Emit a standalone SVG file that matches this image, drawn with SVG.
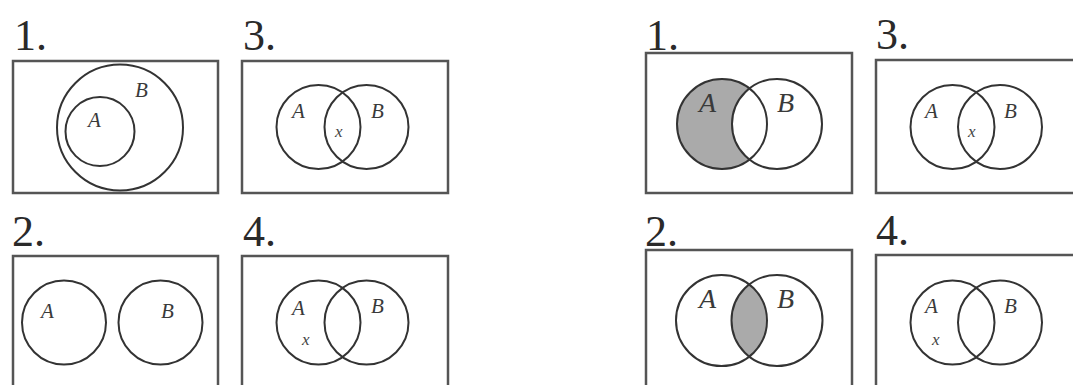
<svg xmlns="http://www.w3.org/2000/svg" width="1073" height="385" viewBox="0 0 1073 385">
<style>
.frame{fill:none;stroke:#555;stroke-width:2.5}
.c{fill:none;stroke:#333;stroke-width:2}
.num{font-family:"Liberation Serif",serif;font-size:44px;fill:#2a2a2a}
.lt{font-family:"Liberation Serif",serif;font-style:italic;font-size:21px;fill:#3a3a3a}
.lx{font-family:"Liberation Serif",serif;font-style:italic;font-size:17px;fill:#444}
.lb{font-family:"Liberation Serif",serif;font-style:italic;font-size:28px;fill:#3a3a3a}
.shade{fill:#aaa}
</style>
<defs>
<clipPath id="clipA1"><circle cx="722" cy="124" r="45"/></clipPath>
<clipPath id="clipA2"><circle cx="721.5" cy="320.5" r="45.5"/></clipPath>
</defs>
<rect width="1073" height="385" fill="#fff"/>

<g id="L1">
<text class="num" x="14" y="50">1.</text>
<rect class="frame" x="13" y="61" width="205" height="132"/>
<circle class="c" cx="120" cy="127.5" r="63"/>
<circle class="c" cx="100" cy="131.5" r="34.5"/>
<text class="lt" x="88" y="127">A</text>
<text class="lt" x="135" y="97">B</text>
</g>

<g id="L3">
<text class="num" x="243" y="50">3.</text>
<rect class="frame" x="242" y="61" width="206" height="132"/>
<circle class="c" cx="318.5" cy="127" r="42"/>
<circle class="c" cx="366.5" cy="127" r="42"/>
<text class="lt" x="292" y="118">A</text>
<text class="lt" x="371" y="118">B</text>
<text class="lx" x="335" y="137">x</text>
</g>

<g id="L2">
<text class="num" x="12" y="246">2.</text>
<rect class="frame" x="13" y="256" width="205" height="140"/>
<circle class="c" cx="64" cy="322.5" r="42"/>
<circle class="c" cx="160.5" cy="322.5" r="42"/>
<text class="lt" x="41" y="318">A</text>
<text class="lt" x="161" y="318">B</text>
</g>

<g id="L4">
<text class="num" x="243" y="246">4.</text>
<rect class="frame" x="242" y="256" width="206" height="140"/>
<circle class="c" cx="318.5" cy="322.5" r="42"/>
<circle class="c" cx="366.5" cy="322.5" r="42"/>
<text class="lt" x="292" y="315">A</text>
<text class="lx" x="302" y="345">x</text>
<text class="lt" x="371" y="313">B</text>
</g>

<g id="R1">
<text class="num" x="646" y="50">1.</text>
<rect class="frame" x="646" y="53" width="206" height="140"/>
<g clip-path="url(#clipA1)"><rect class="shade" x="670" y="70" width="120" height="110"/><circle cx="777" cy="124" r="45" fill="#fff"/></g>
<circle class="c" cx="722" cy="124" r="45"/>
<circle class="c" cx="777" cy="124" r="45"/>
<text class="lb" x="699" y="112">A</text>
<text class="lb" x="777" y="112">B</text>
</g>

<g id="R3">
<text class="num" x="876" y="49">3.</text>
<rect class="frame" x="876" y="60" width="220" height="133"/>
<circle class="c" cx="952.5" cy="127" r="42"/>
<circle class="c" cx="1000" cy="127" r="42"/>
<text class="lt" x="925" y="118">A</text>
<text class="lt" x="1004" y="118">B</text>
<text class="lx" x="968" y="137">x</text>
</g>

<g id="R2">
<text class="num" x="645" y="246">2.</text>
<rect class="frame" x="646" y="250" width="206" height="146"/>
<g clip-path="url(#clipA2)"><circle class="shade" cx="777" cy="320.5" r="45.5"/></g>
<circle class="c" cx="721.5" cy="320.5" r="45.5"/>
<circle class="c" cx="777" cy="320.5" r="45.5"/>
<text class="lb" x="699" y="308">A</text>
<text class="lb" x="777" y="308">B</text>
</g>

<g id="R4">
<text class="num" x="876" y="245">4.</text>
<rect class="frame" x="876" y="255" width="220" height="141"/>
<circle class="c" cx="952.5" cy="322.5" r="42"/>
<circle class="c" cx="1000" cy="322.5" r="42"/>
<text class="lt" x="925" y="313">A</text>
<text class="lx" x="932" y="345">x</text>
<text class="lt" x="1004" y="313">B</text>
</g>

<g id="connectors"></g>
</svg>
